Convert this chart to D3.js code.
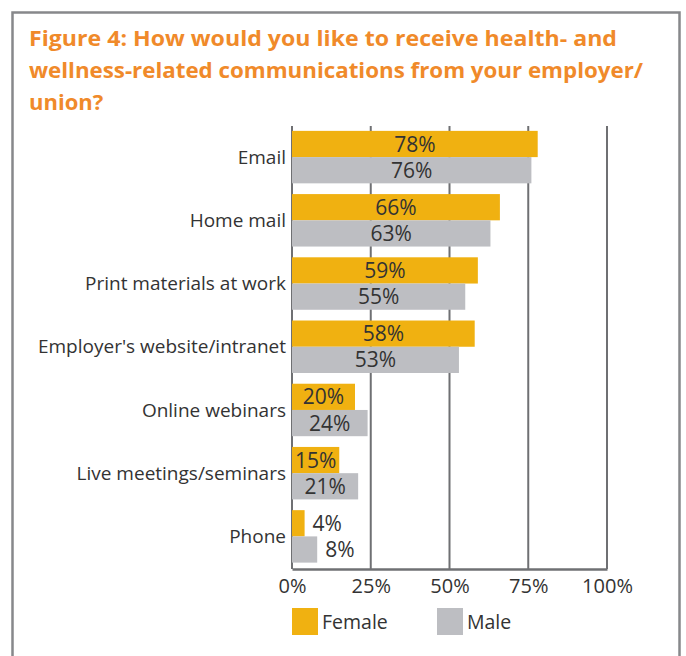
<!DOCTYPE html>
<html>
<head>
<meta charset="utf-8">
<script src="https://cdn.jsdelivr.net/npm/d3@7/dist/d3.min.js"></script>
<style>
  html, body { margin: 0; padding: 0; background: #fff; }
  svg { display: block; }
</style>
</head>
<body>
<svg id="chart" width="686" height="656"></svg>
<script>
// Survey responses: preferred channels for health/wellness communications
const categories = ["Email", "Home mail", "Print materials at work", "Employer's website/intranet",
                    "Online webinars", "Live meetings/seminars", "Phone"];
const female = [78, 66, 59, 58, 20, 15, 4];
const male   = [76, 63, 55, 53, 24, 21, 8];
const tickValues = [0, 25, 50, 75, 100];
const seriesNames = ["Female", "Male"];

const colors = { Female: "#f0b111", Male: "#bdbec2" };
const textColor = "#333333";
const gridColor = "#6f7073";
const font = "'Open Sans', 'Noto Sans', sans-serif";
const textWeight = 400;

const svg = d3.select("#chart");

// Frame
svg.append("rect")
  .attr("x", 12.5).attr("y", 12.5)
  .attr("width", 667).attr("height", 660)
  .attr("fill", "none").attr("stroke", "#87888b").attr("stroke-width", 2.5);

// Title
const titleLines = ["Figure 4: How would you like to receive health- and",
                    "wellness-related communications from your employer/",
                    "union?"];
const titleWidths = [588, 614, null];
svg.append("g").selectAll("text").data(titleLines).join("text")
  .attr("x", 29).attr("y", (d, i) => 46 + i * 32)
  .attr("fill", "#f08a2a")
  .attr("font-family", font).attr("font-weight", 700).attr("font-size", 22)
  .each(function(d, i) {
    if (titleWidths[i]) d3.select(this).attr("textLength", titleWidths[i]).attr("lengthAdjust", "spacingAndGlyphs");
  })
  .text(d => d);

// Scales
const x = d3.scaleLinear().domain([0, 100]).range([292, 607]);
const y = d3.scaleBand().domain(categories).range([125.5, 568]).paddingInner(0.17).paddingOuter(0.085);
const sub = d3.scaleBand().domain(seriesNames).range([0, y.bandwidth()]);

// Gridlines
svg.append("g").selectAll("line").data(tickValues).join("line")
  .attr("x1", d => x(d)).attr("x2", d => x(d))
  .attr("y1", 126).attr("y2", 569)
  .attr("stroke", gridColor).attr("stroke-width", 2);

// Bottom axis
const xAxis = d3.axisBottom(x).tickValues(tickValues).tickFormat(d => d + "%").tickSize(0).tickPadding(10);
const axisG = svg.append("g").attr("transform", "translate(0,569)").call(xAxis);
axisG.select(".domain").attr("stroke", gridColor).attr("stroke-width", 2.5);
axisG.selectAll("text")
  .attr("font-family", font).attr("font-weight", textWeight).attr("font-size", 20).attr("fill", textColor);

// Category labels
svg.append("g").selectAll("text").data(categories).join("text")
  .attr("x", 286).attr("y", d => y(d) + y.bandwidth() / 2)
  .attr("dy", "0.35em")
  .attr("text-anchor", "end")
  .attr("font-family", font).attr("font-weight", textWeight).attr("font-size", 19).attr("fill", textColor)
  .text(d => d);

// Bars
const rows = [];
categories.forEach((c, i) => {
  rows.push({ cat: c, series: "Female", value: female[i] });
  rows.push({ cat: c, series: "Male", value: male[i] });
});

const bars = svg.append("g");
bars.selectAll("rect").data(rows).join("rect")
  .attr("x", x(0))
  .attr("y", d => y(d.cat) + sub(d.series))
  .attr("width", d => x(d.value) - x(0))
  .attr("height", sub.bandwidth())
  .attr("fill", d => colors[d.series]);

// Value labels: centred in the bar, or just past its end for short bars
bars.selectAll("text").data(rows).join("text")
  .attr("x", d => d.value < 10 ? x(d.value) + 8 : (x(0) + x(d.value)) / 2)
  .attr("text-anchor", d => d.value < 10 ? "start" : "middle")
  .attr("y", d => y(d.cat) + sub(d.series) + sub.bandwidth() / 2)
  .attr("dy", "0.36em")
  .attr("font-family", font).attr("font-weight", textWeight).attr("font-size", 21).attr("fill", textColor)
  .text(d => d.value + "%");

// Legend
const legend = svg.append("g").selectAll("g").data(seriesNames).join("g")
  .attr("transform", (d, i) => `translate(${292 + i * 145},608)`);
legend.append("rect").attr("width", 26).attr("height", 27).attr("fill", d => colors[d]);
legend.append("text")
  .attr("x", 30).attr("y", 13.5).attr("dy", "0.36em")
  .attr("font-family", font).attr("font-weight", textWeight).attr("font-size", 19.5).attr("fill", textColor)
  .text(d => d);
</script>
</body>
</html>
